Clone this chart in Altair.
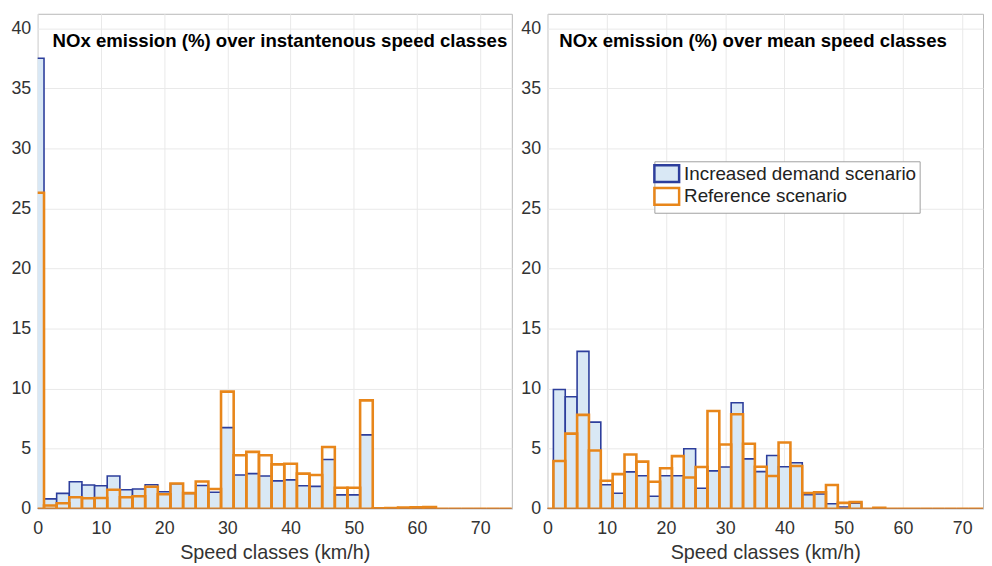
import altair as alt
import pandas as pd

FONT = "Liberation Sans"
SERIES = ["Increased demand scenario", "Reference scenario"]
BLUE = "#2d3e9c"
LIGHT = "#d9e8f5"
ORANGE = "#e8861a"

# bin centres (km/h), bin width 2
centers = list(range(0, 76, 2))

left_inc = [37.5, 0.82, 1.28, 2.24, 1.97, 1.91, 2.73, 1.58, 1.64, 1.99,
            1.42, 2.08, 1.28, 1.94, 1.37, 6.75, 2.81, 2.92, 2.73, 2.32,
            2.40, 1.91, 1.86, 4.10, 1.15, 1.15, 6.15, 0.02, 0.03, 0.06,
            0.08, 0.10, 0, 0, 0, 0, 0, 0]
left_ref = [26.3, 0.27, 0.45, 0.96, 0.87, 0.90, 1.58, 0.96, 1.04, 1.83,
            1.20, 2.10, 1.30, 2.27, 1.64, 9.75, 4.45, 4.73, 4.45, 3.69,
            3.74, 2.92, 2.81, 5.14, 1.75, 1.75, 9.02, 0.03, 0.05, 0.10,
            0.12, 0.15, 0, 0, 0, 0, 0, 0]

right_inc = [0, 9.92, 9.32, 13.1, 7.21, 2.00, 1.29, 3.07, 2.74, 1.04,
             2.74, 2.74, 4.99, 1.70, 3.15, 3.48, 8.82, 4.15, 3.09, 4.43,
             3.50, 3.83, 1.17, 1.23, 0.41, 0.14, 0.46, 0, 0.03, 0,
             0, 0, 0, 0, 0, 0, 0, 0]
right_ref = [0, 3.97, 6.25, 7.81, 4.85, 2.33, 2.88, 4.52, 3.92, 2.25,
             3.37, 4.38, 2.60, 3.48, 8.14, 5.34, 7.86, 5.41, 3.50, 2.73,
             5.52, 3.55, 1.31, 1.37, 1.97, 0.49, 0.55, 0, 0.07, 0,
             0, 0, 0, 0, 0, 0, 0, 0]

x_ticks = [0, 10, 20, 30, 40, 50, 60, 70]
y_ticks = [0, 5, 10, 15, 20, 25, 30, 35, 40]

TITLE_L = "NOx emission (%) over instantenous speed classes"
TITLE_R = "NOx emission (%) over mean speed classes"
X_TITLE = "Speed classes (km/h)"


def panel_df(inc, ref):
    rows = []
    for name, vals in zip(SERIES, [inc, ref]):
        for c, v in zip(centers, vals):
            rows.append({"series": name, "start": c - 1, "end": c + 1,
                         "value": v, "base": 0})
    return pd.DataFrame(rows)


def make_panel(inc, ref, title, xmax, width, title_x, legend):
    df = panel_df(inc, ref)
    base = alt.Chart(df)
    x = alt.X("start:Q",
              scale=alt.Scale(domain=[0, xmax], nice=False, zero=False),
              axis=alt.Axis(values=x_ticks, title=X_TITLE, labelPadding=11,
                            titlePadding=5, labelFlush=False))
    y = alt.Y("value:Q",
              scale=alt.Scale(domain=[0, 41.2], nice=False),
              axis=alt.Axis(values=y_ticks, title=None, labelPadding=7,
                            minExtent=29, maxExtent=29, labelFlush=False))
    fill = alt.Fill("series:N",
                    scale=alt.Scale(domain=SERIES, range=[LIGHT, "transparent"]),
                    legend=legend)
    stroke = alt.Stroke("series:N",
                        scale=alt.Scale(domain=SERIES, range=[BLUE, ORANGE]),
                        legend=legend)
    enc = dict(x=x, x2="end:Q", y=y, y2="base:Q", fill=fill, stroke=stroke)
    blue = base.transform_filter(alt.datum.series == SERIES[0]).mark_rect(
        clip=True, strokeWidth=1.6, fillOpacity=1).encode(**enc)
    orange = base.transform_filter(alt.datum.series == SERIES[1]).mark_rect(
        clip=True, strokeWidth=2.6, fillOpacity=1).encode(**enc)
    txt = alt.Chart(pd.DataFrame({"t": [title]})).mark_text(
        align="left", baseline="middle", fontWeight="bold", fontSize=18.8,
        font=FONT, color="black").encode(
        text="t:N", x=alt.value(title_x), y=alt.value(28))
    return alt.layer(blue, orange, txt).properties(width=width, height=500)


legend_r = alt.Legend(title=None, orient="none", legendX=108, legendY=149,
                      symbolType="M-2.5,-1.7H2.5V1.7H-2.5Z", symbolSize=100,
                      symbolStrokeWidth=2.5, labelFontSize=19, labelFont=FONT,
                      labelColor="#222222", labelOffset=8, padding=3,
                      strokeColor="#a0a0a0", fillColor="white", rowPadding=-6,
                      labelLimit=400)

left = make_panel(left_inc, left_ref, TITLE_L, 75, 479, 15, None)
right = make_panel(right_inc, right_ref, TITLE_R, 73.5, 440, 12, legend_r)

chart = alt.hconcat(left, right, spacing=5).resolve_scale(
    fill="independent", stroke="independent"
).properties(
    padding={"left": 0, "top": 2, "right": 0, "bottom": 0}
).configure_view(
    stroke="#b8b8b8", strokeWidth=1
).configure_axis(
    grid=True, gridColor="#e9e9e9", domain=False, ticks=False,
    labelFont=FONT, labelFontSize=18, labelColor="#333333",
    titleFont=FONT, titleFontSize=20, titleColor="#333333",
    titleFontWeight="normal"
)

chart.save("out.html", embed_options={"renderer": "svg", "actions": False})
